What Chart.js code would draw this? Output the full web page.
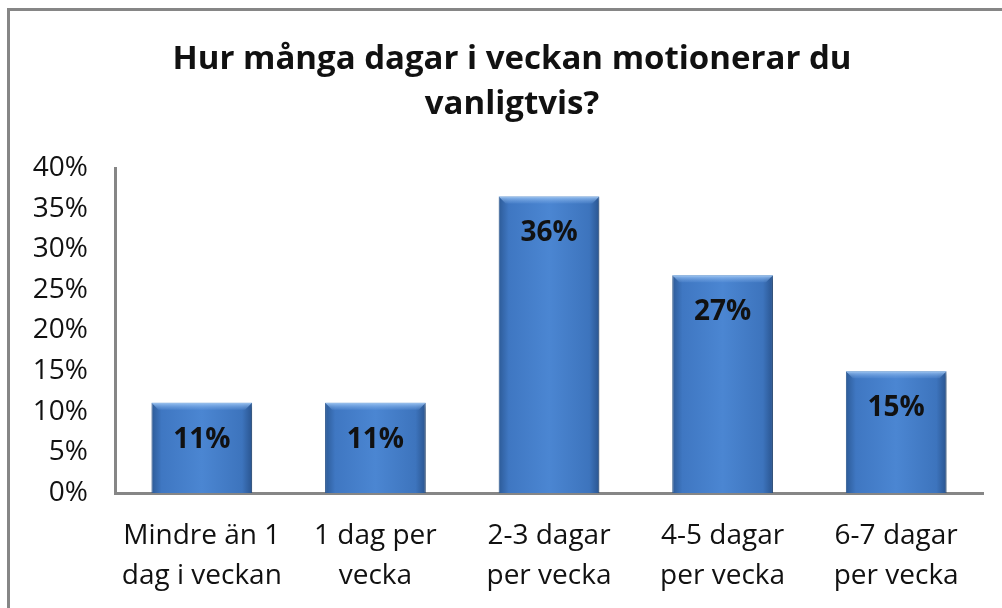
<!DOCTYPE html>
<html>
<head>
<meta charset="utf-8">
<script src="https://cdn.jsdelivr.net/npm/chart.js@4"></script>
<style>
  html, body { margin: 0; padding: 0; background: #fff; overflow: hidden; }
  #ram { position: absolute; left: 7px; top: 8px; width: 1100px; height: 700px; border: 3px solid #868686; }
  #wrap { position: absolute; left: 0; top: 0; width: 1002px; height: 608px; }
</style>
</head>
<body>
<div id="ram"></div>
<div id="wrap"><canvas id="myChart"></canvas></div>
<script>
// ---------------------------data---------------------------
const kategorier = [
  ['Mindre än 1', 'dag i veckan'],
  ['1 dag per', 'vecka'],
  ['2-3 dagar', 'per vecka'],
  ['4-5 dagar', 'per vecka'],
  ['6-7 dagar', 'per vecka']
];
const andel = [11.1, 11.1, 36.5, 26.8, 15.0];
const etiketter = ['11%', '11%', '36%', '27%', '15%'];
const titel = ['Hur många dagar i veckan motionerar du', 'vanligtvis?'];

const FONT = '"Open Sans", Lato, sans-serif';
const BAR_PCT = 0.58;

// gradient for each bar (dark edges, lighter middle)
function stapelFarg(ctx) {
  const chart = ctx.chart;
  const xs = chart.scales.x;
  if (!chart.chartArea || !xs || !xs.width) return '#4a7ebb';
  const mitt = xs.getPixelForValue(ctx.dataIndex);
  const bredd = xs.width / kategorier.length * BAR_PCT;
  const g = chart.ctx.createLinearGradient(mitt - bredd / 2, 0, mitt + bredd / 2, 0);
  g.addColorStop(0, '#2d5b98');
  g.addColorStop(0.1, '#3f77c2');
  g.addColorStop(0.5, '#4b86d2');
  g.addColorStop(0.9, '#3d74bd');
  g.addColorStop(1, '#2a5590');
  return g;
}

// title drawn by hand so it can be centred like the original (slightly right of the page centre)
const titelPlugin = {
  id: 'titelPlugin',
  afterDraw(chart) {
    const c = chart.ctx;
    c.save();
    c.font = 'bold 33px ' + FONT;
    c.fillStyle = '#111';
    c.textAlign = 'center';
    c.textBaseline = 'middle';
    titel.forEach((rad, i) => c.fillText(rad, 512, 60 + i * 45));
    c.restore();
  }
};

// shadow + bevel + value labels
const stapelPlugin = {
  id: 'stapelPlugin',
  beforeDatasetsDraw(chart) {
    const c = chart.ctx;
    c.save();
    c.shadowColor = 'rgba(0,0,0,0.35)';
    c.shadowBlur = 5;
    c.shadowOffsetX = 2;
    c.shadowOffsetY = 2;
  },
  afterDatasetsDraw(chart) {
    const c = chart.ctx;
    c.restore();
    const meta = chart.getDatasetMeta(0);
    meta.data.forEach((bar, i) => {
      const x0 = bar.x - bar.width / 2, x1 = bar.x + bar.width / 2;
      const y = bar.y, b = 7;
      // top bevel
      c.save();
      const g = c.createLinearGradient(0, y, 0, y + b);
      g.addColorStop(0, 'rgba(160,200,245,0.95)');
      g.addColorStop(1, 'rgba(110,160,225,0.2)');
      c.fillStyle = g;
      c.beginPath();
      c.moveTo(x0, y); c.lineTo(x1, y); c.lineTo(x1 - b, y + b); c.lineTo(x0 + b, y + b);
      c.closePath(); c.fill();
      c.restore();
      // label
      c.save();
      c.font = 'bold 28px ' + FONT;
      c.fillStyle = '#111';
      c.textAlign = 'center';
      c.textBaseline = 'middle';
      c.fillText(etiketter[i], bar.x, y + 37);
      c.restore();
    });
  }
};

const data = {
  labels: kategorier,
  datasets: [{
    data: andel,
    backgroundColor: stapelFarg,
    borderColor: '#2f5c96',
    borderWidth: 1,
    categoryPercentage: 1,
    barPercentage: BAR_PCT
  }]
};

const drawChart = new Chart(document.getElementById('myChart'), {
  type: 'bar',
  data: data,
  plugins: [stapelPlugin, titelPlugin],
  options: {
    responsive: true,
    maintainAspectRatio: false,
    animation: false,
    layout: { padding: { top: 168, right: 19, left: 10, bottom: 0 } },
    plugins: {
      legend: { display: false },
      tooltip: { enabled: false },
      title: { display: false }
    },
    scales: {
      x: {
        grid: { display: false, drawTicks: false },
        border: { color: '#868686', width: 3 },
        ticks: {
          color: '#111',
          font: { family: FONT, size: 28, lineHeight: 1.43 },
          padding: 23,
          maxRotation: 0,
          autoSkip: false
        },
        afterFit(scale) { scale.height = 115; }
      },
      y: {
        min: 0,
        max: 40,
        grid: { display: false, drawTicks: false },
        border: { color: '#868686', width: 3 },
        ticks: {
          stepSize: 5,
          color: '#111',
          font: { family: FONT, size: 28 },
          padding: 27,
          callback: v => v + '%'
        },
        afterFit(scale) { scale.width = 105; }
      }
    }
  }
});
</script>
</body>
</html>
